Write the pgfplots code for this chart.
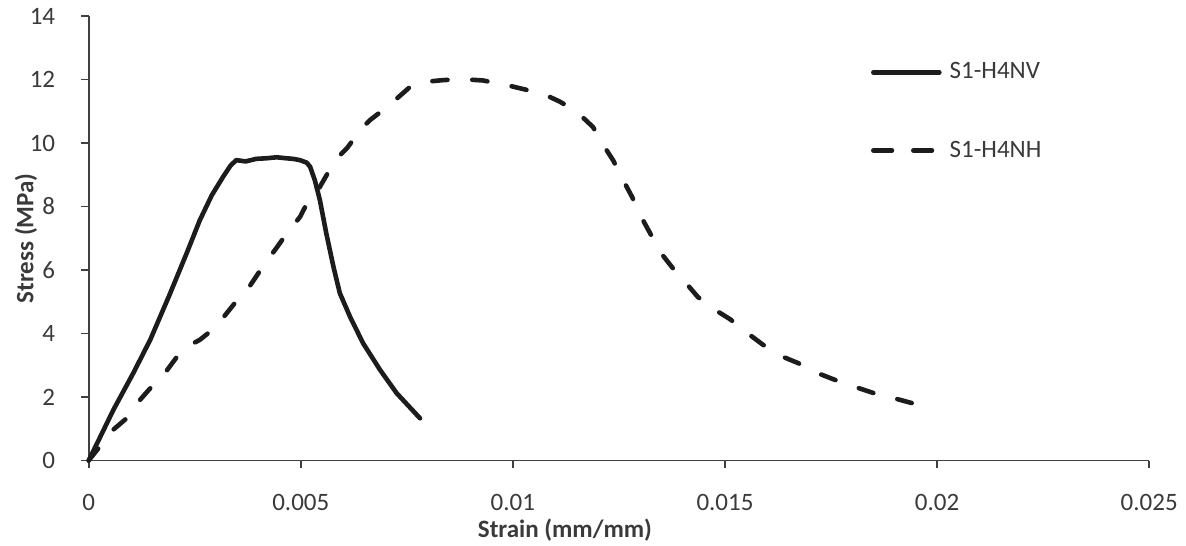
\documentclass[border=0pt]{standalone}
\usepackage{fontspec}
\setmainfont{Carlito}
\usepackage{pgfplots}
\pgfplotsset{compat=1.18}

\definecolor{axisgray}{HTML}{404040}
\definecolor{textgray}{HTML}{3A3A3A}
\definecolor{curve}{HTML}{1C1C1C}

\newcommand{\chartfont}{\fontsize{12.5}{15}\selectfont}

\begin{document}
\begin{tikzpicture}
\path[use as bounding box] (-44.35pt,-42.25pt) rectangle (548.65pt,230.25pt);
\begin{axis}[
  at={(0pt,0pt)}, anchor=south west,
  scale only axis, width=530.25pt, height=222.25pt,
  xmin=0, xmax=0.025, ymin=0, ymax=14,
  axis lines=left,
  axis line style={draw=axisgray, line width=0.8pt, -},
  tick style={draw=axisgray, line width=0.8pt},
  tick align=outside, major tick length=3.75pt,
  xtick={0,0.005,0.01,0.015,0.02,0.025},
  xticklabels={0,0.005,0.01,0.015,0.02,0.025},
  ytick={0,2,4,6,8,10,12,14},
  yticklabels={0,2,4,6,8,10,12,14},
  scaled x ticks=false,
  tick label style={font=\chartfont, text=textgray, inner sep=0pt},
  xticklabel style={anchor=base, yshift=-21.25pt},
  yticklabel style={anchor=east, xshift=-12.85pt},
  xlabel={Strain (mm/mm)},
  ylabel={Stress (MPa)},
  every axis x label/.style={at={(axis description cs:0.4491,0)}, anchor=base, inner sep=0pt, yshift=-38.25pt, font=\chartfont\bfseries, text=textgray},
  every axis y label/.style={at={(axis description cs:0,0.5)}, xshift=-31.35pt, rotate=90, anchor=center, inner sep=0pt, font=\chartfont\bfseries, text=textgray},
  legend image code/.code={\draw[#1] (0pt,0pt) -- (33pt,0pt);},
  legend style={at={(axis description cs:0.7377,0.7854)}, anchor=west, draw=none, fill=none,
    inner sep=0pt, outer sep=0pt, row sep=29.5pt, column sep=4pt,
    font=\chartfont, text=textgray, nodes={inner sep=0pt}},
  legend cell align=left,
  clip=false,
]
% S1-H4NV: solid curve
\addplot[curve, line width=2.3pt, line join=round, line cap=round]
coordinates {
(0,0) (0.0003,0.82) (0.00058,1.59) (0.00105,2.75) (0.00145,3.8)
(0.0019,5.2) (0.00231,6.53) (0.00262,7.57) (0.0029,8.35) (0.00317,8.94)
(0.00335,9.3) (0.00348,9.46) (0.0037,9.42) (0.00395,9.5) (0.0042,9.52)
(0.00443,9.55) (0.00465,9.52) (0.00482,9.5) (0.00498,9.46) (0.00514,9.38)
(0.00522,9.25) (0.00533,8.83) (0.00545,8.2) (0.0056,7.16) (0.00577,6.1)
(0.00592,5.27) (0.00616,4.53) (0.00647,3.69) (0.00687,2.85) (0.00726,2.12)
(0.00781,1.33)
};
\addlegendentry{S1-H4NV}
% S1-H4NH: dashed curve
\addplot[curve, line width=2.3pt, line join=round, line cap=round,
  dash pattern=on 7.6pt off 12.4pt, dash phase=0pt,
  legend image post style={dash pattern=on 9.3pt off 10.7pt, dash phase=0pt}]
coordinates {
(0,0) (0.00057,0.96) (0.00093,1.37) (0.00121,1.91) (0.00152,2.38)
(0.00185,2.85) (0.00211,3.32) (0.00239,3.64) (0.00262,3.80) (0.0029,4.1)
(0.0032,4.55) (0.0035,5.05) (0.0038,5.5) (0.0041,6.1) (0.00444,6.72)
(0.00468,7.17) (0.00498,7.67) (0.00515,8.11) (0.00538,8.46) (0.00564,9.06)
(0.00581,9.46) (0.00609,9.84) (0.00644,10.47) (0.00663,10.72) (0.00694,11.04)
(0.00717,11.29) (0.00757,11.76) (0.00788,11.92) (0.00835,11.98) (0.00882,12.01)
(0.00929,11.97) (0.00977,11.85) (0.01024,11.7) (0.01071,11.55) (0.01111,11.3)
(0.01151,10.98) (0.01189,10.5) (0.0121,10.0) (0.01236,9.46) (0.01257,8.9)
(0.01281,8.3) (0.013,7.73) (0.01323,7.17) (0.01347,6.57) (0.01375,6.09)
(0.01406,5.62) (0.01436,5.15) (0.01476,4.75) (0.01512,4.45) (0.01552,4.02)
(0.0159,3.64) (0.01632,3.29) (0.01672,3.07) (0.01717,2.76) (0.01759,2.54)
(0.01806,2.32) (0.01849,2.13) (0.01896,1.97) (0.0194,1.81)
};
\addlegendentry{S1-H4NH}
\end{axis}
\end{tikzpicture}
\end{document}
